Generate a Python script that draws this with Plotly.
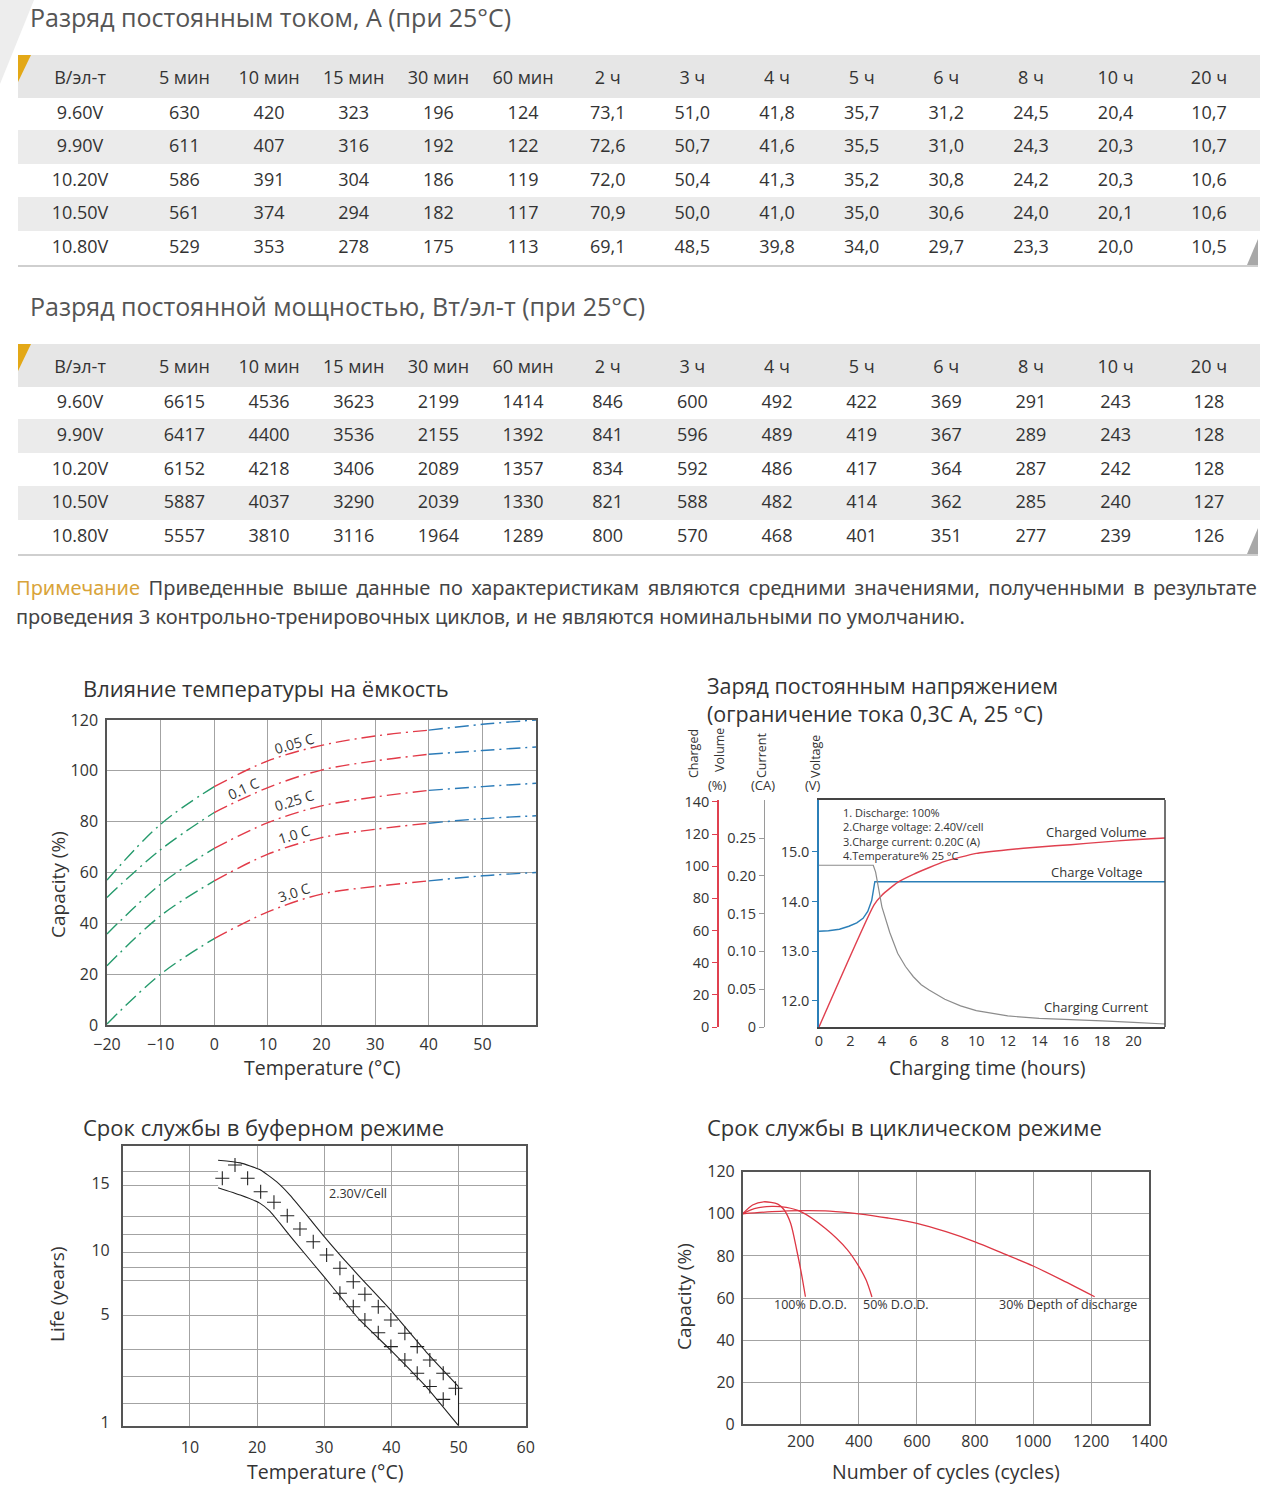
import plotly.graph_objects as go
import numpy as np

W, H = 1280, 1497
FONT = "Open Sans"
NOTE_FONT = "Noto Sans"
TXT = "#333333"

# ---------------- data: tables ----------------
VOLTS = ["9.60V", "9.90V", "10.20V", "10.50V", "10.80V"]
DURATIONS = ["5 мин", "10 мин", "15 мин", "30 мин", "60 мин", "2 ч", "3 ч",
             "4 ч", "5 ч", "6 ч", "8 ч", "10 ч", "20 ч"]
CURRENT_A = [
    [630, 420, 323, 196, 124, 73.1, 51.0, 41.8, 35.7, 31.2, 24.5, 20.4, 10.7],
    [611, 407, 316, 192, 122, 72.6, 50.7, 41.6, 35.5, 31.0, 24.3, 20.3, 10.7],
    [586, 391, 304, 186, 119, 72.0, 50.4, 41.3, 35.2, 30.8, 24.2, 20.3, 10.6],
    [561, 374, 294, 182, 117, 70.9, 50.0, 41.0, 35.0, 30.6, 24.0, 20.1, 10.6],
    [529, 353, 278, 175, 113, 69.1, 48.5, 39.8, 34.0, 29.7, 23.3, 20.0, 10.5],
]
POWER_W = [
    [6615, 4536, 3623, 2199, 1414, 846, 600, 492, 422, 369, 291, 243, 128],
    [6417, 4400, 3536, 2155, 1392, 841, 596, 489, 419, 367, 289, 243, 128],
    [6152, 4218, 3406, 2089, 1357, 834, 592, 486, 417, 364, 287, 242, 128],
    [5887, 4037, 3290, 2039, 1330, 821, 588, 482, 414, 362, 285, 240, 127],
    [5557, 3810, 3116, 1964, 1289, 800, 570, 468, 401, 351, 277, 239, 126],
]

# ---------------- data: temperature vs capacity ----------------
TEMP_C = [-20, -10, 0, 10, 20, 30, 40, 50, 60]
CAP_RATES = ["0.05 C", "0.1 C", "0.25 C", "1.0 C", "3.0 C"]
CAP_005 = [57.0, 79.0, 93.8, 103.9, 110.0, 113.7, 116.0, 118.3, 120.0]
CAP_01 = [50.2, 69.0, 83.6, 93.4, 100.3, 103.9, 106.5, 108.0, 109.4]
CAP_025 = [35.8, 55.4, 69.5, 79.6, 86.2, 89.7, 92.3, 93.8, 95.1]
CAP_10 = [23.3, 43.0, 56.7, 67.2, 73.7, 77.0, 79.4, 81.2, 82.3]
CAP_30 = [0.4, 20.0, 34.0, 44.5, 51.5, 54.5, 56.7, 58.7, 60.0]

# ---------------- data: constant voltage charge ----------------
VOLT_T = [0, 0.6, 1.3, 1.9, 2.4, 2.8, 3.1, 3.35, 3.55, 22]
VOLT_V = [13.40, 13.41, 13.44, 13.50, 13.57, 13.66, 13.80, 14.02, 14.40, 14.40]
VOL_T = [0, 3.5, 4, 5, 6, 8, 10, 12, 14, 16, 18, 20, 22]
VOL_PCT = [0, 76, 82, 90, 95, 103, 108, 110.3, 112, 113.4, 115, 116.5, 117.6]
CUR_T = [0, 3.45, 3.6, 3.8, 4, 4.5, 5, 5.5, 6, 6.5, 7, 8, 9, 10, 12, 14, 16, 18, 20, 22]
CUR_CA = [0.214, 0.214, 0.205, 0.180, 0.159, 0.125, 0.0975, 0.080, 0.0665, 0.056, 0.049,
          0.0366, 0.028, 0.0216, 0.0146, 0.0115, 0.0093, 0.008, 0.0062, 0.004]

# ---------------- data: float life ----------------
LIFE_T_UP = [14.2, 17.5, 20.4, 22.9, 24.9, 27.4, 30.0, 32.8, 35.3, 39.9, 45.2, 50.0]
LIFE_Y_UP = [16.7, 16.5, 16.0, 15.1, 14.1, 12.6, 11.0, 9.35, 7.9, 5.3, 3.6, 2.33]
LIFE_T_LO = [14.2, 17.5, 20.4, 21.9, 23.4, 25.4, 30.0, 32.8, 35.3, 39.9, 42.8, 45.2, 50.0]
LIFE_Y_LO = [14.65, 14.1, 13.5, 12.9, 12.0, 10.75, 7.9, 6.1, 4.78, 3.67, 2.94, 2.32, 0.89]
HATCH_T = [16.72, 18.60, 20.54, 22.52, 24.50, 26.39, 28.37, 30.36, 32.34, 34.33,
           36.06, 38.05, 39.93, 42.01, 43.85, 45.73, 47.72, 49.55,
           14.83, 32.34, 34.33, 36.06, 38.05, 39.93, 42.01, 43.85, 45.73, 47.72]
HATCH_Y = [16.34, 15.35, 14.35, 13.56, 12.56, 11.57, 10.62, 9.61, 8.57, 7.52,
           6.54, 5.57, 4.78, 4.29, 3.80, 3.31, 2.82, 2.27,
           15.35, 6.62, 5.57, 4.78, 4.31, 3.80, 3.31, 2.82, 2.33, 1.86]
LIFE_TICKS = [1, 5, 10, 15]

# ---------------- data: cycle life ----------------
DOD100_N = [0, 34, 72, 121, 143, 165, 186, 202, 216]
DOD100_C = [100, 104.2, 105.7, 104.6, 101.8, 95.5, 82.8, 71.7, 60.6]
DOD50_N = [0, 40, 100, 150, 200, 285, 360, 400, 425, 445]
DOD50_C = [100, 102.5, 103.5, 103, 101, 93, 83, 75, 68.5, 60.5]
DOD30_N = [0, 100, 200, 300, 400, 500, 600, 700, 800, 900, 1000, 1100, 1212]
DOD30_C = [100, 101, 101.5, 101.3, 100, 98, 95.5, 91.5, 86.7, 81, 75.2, 68.5, 60.6]

# ---------------- helpers ----------------
def px(x):
    return x / W


def py(y):
    return 1 - y / H


def ann(text, x, y, size, color=TXT, xanchor="left", yanchor="middle",
        angle=0, family=FONT, align="left"):
    return dict(text=text, x=px(x), y=py(y), xref="paper", yref="paper",
                showarrow=False, xanchor=xanchor, yanchor=yanchor, align=align,
                textangle=angle, borderpad=0,
                font=dict(family=family, size=size, color=color))


def fmt_cur(v, j):
    return f"{v:d}" if j < 5 else f"{v:.1f}".replace(".", ",")


def fmt_pow(v, j):
    return f"{v:d}"


# piecewise scale used by the float-life chart (years -> axis units)
LIFE_SCALE_YEARS = [0.89, 1, 5, 10, 15, 17.76]
LIFE_SCALE_POS = [0, 3, 111.7, 175.7, 242.7, 279.7]
LIFE_GRID_POS = [22.4, 49, 76.7, 110.7, 145.7, 158.4, 173.4, 191.4, 209.7, 240.7, 254]


def life_pos(v):
    return np.interp(v, LIFE_SCALE_YEARS, LIFE_SCALE_POS)


fig = go.Figure()

# ---------------- tables ----------------
ROW_FILL = ["#ffffff", "#ebebeb", "#ffffff", "#ebebeb", "#ffffff"]
HEAD_FILL = "#e6e6e6"
TFONT = dict(family=FONT, size=18, color=TXT)

shapes = []
annotations = []


def add_table(rows, fmt, y_top, y_bot):
    cols = [VOLTS] + [[fmt(r[j], j) for r in rows] for j in range(len(DURATIONS))]
    ncol = len(cols)
    head_top = y_top + 7
    fig.add_trace(go.Table(
        domain=dict(x=[px(18), px(1260)], y=[py(y_bot + 3), py(head_top)]),
        columnwidth=[124] + [84.6] * 12 + [102],
        header=dict(values=["В/эл-т"] + DURATIONS, fill_color=HEAD_FILL,
                    line=dict(color=HEAD_FILL, width=1), align="center", height=35,
                    font=TFONT),
        cells=dict(values=cols, fill_color=[ROW_FILL] * ncol,
                   line=dict(color=[ROW_FILL] * ncol, width=1), align="center",
                   height=33.6, font=TFONT),
    ))
    # header band top strip (header text sits lower in its band)
    shapes.append(dict(type="rect", xref="paper", yref="paper", x0=px(18), x1=px(1260),
                       y0=py(head_top + 1), y1=py(y_top), fillcolor=HEAD_FILL,
                       line=dict(width=0), layer="below"))


add_table(CURRENT_A, fmt_cur, 55, 265)
add_table(POWER_W, fmt_pow, 344, 554)

# decorative corner, table accents, bottom rules
shapes.append(dict(type="path", xref="paper", yref="paper",
                   path=f"M {px(0)},{py(0)} L {px(34)},{py(0)} L {px(0)},{py(84)} Z",
                   fillcolor="#ededed", line=dict(width=0), layer="below"))
for (top, bot) in [(55, 265), (344, 554)]:
    shapes.append(dict(type="path", xref="paper", yref="paper",
                       path=f"M {px(18)},{py(top)} L {px(31)},{py(top)} L {px(18)},{py(top + 27)} Z",
                       fillcolor="#e3a817", line=dict(width=0)))
    shapes.append(dict(type="line", xref="paper", yref="paper",
                       x0=px(18), x1=px(1258), y0=py(bot + 1), y1=py(bot + 1),
                       line=dict(color="#cfcfcf", width=2)))
    shapes.append(dict(type="path", xref="paper", yref="paper",
                       path=f"M {px(1258)},{py(bot - 26)} L {px(1258)},{py(bot)} L {px(1247)},{py(bot)} Z",
                       fillcolor="#a8a8a8", line=dict(width=0)))

annotations.append(ann("Разряд постоянным током, А (при 25°C)", 29, 17.5, 25, "#555555"))
annotations.append(ann("Разряд постоянной мощностью, Вт/эл-т (при 25°C)", 29, 306, 25, "#555555"))
note_rest = ("Приведенные выше данные по характеристикам являются средними значениями, "
             "полученными в результате")
annotations.append(ann(
    "<span style='color:#d9a43a'>Примечание</span> \u2006" + note_rest.replace(" ", " \u2006"),
    15, 587, 20, "#444444", family=NOTE_FONT))
annotations.append(ann(
    "проведения 3 контрольно-тренировочных циклов, и не являются номинальными по умолчанию.",
    15, 616, 20, "#444444", family=NOTE_FONT))

GRID = "#a3a3a3"
FRAME = "#555555"
TICKF = dict(family=FONT, size=16, color=TXT)

# ---------------- chart 1: temperature vs capacity ----------------
GREEN, RED, BLUE = "#259a6c", "#e23a48", "#2b7bb8"
DASH = "14px,5px,2px,5px"
cap_series = [CAP_005, CAP_01, CAP_025, CAP_10, CAP_30]
for vals in cap_series:
    for (i0, i1, col) in [(0, 3, GREEN), (2, 7, RED), (6, 9, BLUE)]:
        fig.add_trace(go.Scatter(x=TEMP_C[i0:i1], y=vals[i0:i1], mode="lines",
                                 line=dict(color=col, width=1.4, dash=DASH, shape="spline"),
                                 xaxis="x", yaxis="y", hoverinfo="skip"))

label_pos = [(14.8, 110.8, -16), (5.4, 93.2, -25), (14.8, 88.4, -17), (14.8, 74.8, -17), (14.8, 52.0, -18)]
for name, (lx, ly, ang) in zip(CAP_RATES, label_pos):
    annotations.append(dict(text=name, x=lx, y=ly, xref="x", yref="y", showarrow=False,
                            textangle=ang, font=dict(family=FONT, size=14, color=TXT)))

annotations.append(ann("Влияние температуры на ёмкость", 82, 688, 22))
annotations.append(ann("Capacity (%)", 58, 885, 19, angle=-90, xanchor="center"))
annotations.append(ann("Temperature (°C)", 322, 1067, 19.5, xanchor="center"))

# ---------------- chart 2: constant voltage charge ----------------
C_BLUE, C_RED, C_GRAY = "#2b7fb8", "#e0404f", "#8c8c8c"
fig.add_trace(go.Scatter(x=VOLT_T, y=VOLT_V, mode="lines", line=dict(color=C_BLUE, width=1.4),
                         xaxis="x2", yaxis="y2", hoverinfo="skip"))
fig.add_trace(go.Scatter(x=VOL_T, y=VOL_PCT, mode="lines", line=dict(color=C_RED, width=1.4, shape="spline", smoothing=0.5),
                         xaxis="x2", yaxis="y3", hoverinfo="skip"))
fig.add_trace(go.Scatter(x=CUR_T, y=CUR_CA, mode="lines", line=dict(color=C_GRAY, width=1.2),
                         xaxis="x2", yaxis="y4", hoverinfo="skip"))

annotations.append(ann("Заряд постоянным напряжением<br>(ограничение тока 0,3С А, 25 °С)", 706, 700, 21.5))
for t, x, y in [("Charged", 693, 754), ("Volume", 720, 750), ("Current", 762, 756), ("Voltage", 815, 757)]:
    annotations.append(ann(t, x, y, 12.5, angle=-90, xanchor="center"))
for t, x in [("(%)", 717), ("(CA)", 763), ("(V)", 813)]:
    annotations.append(ann(t, x, 785, 13, xanchor="center"))
note_lines = ["1. Discharge: 100%", "2.Charge voltage: 2.40V/cell",
              "3.Charge current: 0.20C (A)", "4.Temperature% 25 °C"]
annotations.append(ann("<br>".join(note_lines), 842, 804, 11, yanchor="top"))
annotations.append(dict(text="Charged Volume", x=17.65, y=15.40, xref="x2", yref="y2", showarrow=False,
                        font=dict(family=FONT, size=13, color=TXT)))
annotations.append(dict(text="Charge Voltage", x=17.65, y=14.60, xref="x2", yref="y2", showarrow=False,
                        font=dict(family=FONT, size=13, color=TXT)))
annotations.append(dict(text="Charging Current", x=17.65, y=11.86, xref="x2", yref="y2", showarrow=False,
                        font=dict(family=FONT, size=13, color=TXT)))
annotations.append(ann("Charging time (hours)", 987, 1067, 19.5, xanchor="center"))
shapes.append(dict(type="line", xref="x2 domain", yref="y2 domain", x0=1, x1=1, y0=0, y1=1,
                   line=dict(color="#444444", width=1.5)))

# ---------------- chart 3: float life ----------------
band_x = LIFE_T_UP + LIFE_T_LO[::-1]
band_y = list(life_pos(LIFE_Y_UP)) + list(life_pos(LIFE_Y_LO[::-1]))
fig.add_trace(go.Scatter(x=band_x, y=band_y, mode="lines", fill="toself", fillcolor="white",
                         line=dict(width=0), xaxis="x3", yaxis="y5", hoverinfo="skip"))
fig.add_trace(go.Scatter(x=HATCH_T, y=life_pos(HATCH_Y), mode="markers",
                         marker=dict(symbol="cross-thin", size=10, line=dict(color="#222222", width=1.1)),
                         xaxis="x3", yaxis="y5", hoverinfo="skip"))
fig.add_trace(go.Scatter(x=LIFE_T_UP, y=life_pos(LIFE_Y_UP),
                         mode="lines", line=dict(color="#222222", width=1.1, shape="spline", smoothing=0.5),
                         xaxis="x3", yaxis="y5", hoverinfo="skip"))
fig.add_trace(go.Scatter(x=[LIFE_T_UP[-1], LIFE_T_LO[-1]], y=[life_pos(LIFE_Y_UP[-1]), life_pos(LIFE_Y_LO[-1])],
                         mode="lines", line=dict(color="#222222", width=1.1),
                         xaxis="x3", yaxis="y5", hoverinfo="skip"))
fig.add_trace(go.Scatter(x=LIFE_T_LO, y=life_pos(LIFE_Y_LO), mode="lines",
                         line=dict(color="#222222", width=1.1, shape="spline", smoothing=0.5),
                         xaxis="x3", yaxis="y5", hoverinfo="skip"))
annotations.append(dict(text="2.30V/Cell", x=35, y=float(life_pos(14.2)), xref="x3", yref="y5",
                        showarrow=False, font=dict(family=FONT, size=12.5, color=TXT)))
annotations.append(ann("Срок службы в буферном режиме", 82, 1127, 22))
annotations.append(ann("Life (years)", 57, 1295, 19, angle=-90, xanchor="center"))
annotations.append(ann("Temperature (°C)", 325, 1471, 19.5, xanchor="center"))

# ---------------- chart 4: cycle life ----------------
CYC_RED = "#dd3744"
for n, c in [(DOD100_N, DOD100_C), (DOD50_N, DOD50_C), (DOD30_N, DOD30_C)]:
    fig.add_trace(go.Scatter(x=n, y=c, mode="lines", line=dict(color=CYC_RED, width=1.3, shape="spline", smoothing=0.8),
                             xaxis="x4", yaxis="y6", hoverinfo="skip"))
for t, x in [("100% D.O.D.", 235), ("50% D.O.D.", 528), ("30% Depth of discharge", 1120)]:
    annotations.append(dict(text=t, x=x, y=57.1, xref="x4", yref="y6", showarrow=False,
                            font=dict(family=FONT, size=12.5, color=TXT)))
annotations.append(ann("Срок службы в циклическом режиме", 706, 1127, 22))
annotations.append(ann("Capacity (%)", 684, 1297, 19, angle=-90, xanchor="center"))
annotations.append(ann("Number of cycles (cycles)", 946, 1471, 19.5, xanchor="center"))

# ---------------- layout ----------------
frame = dict(showline=True, linecolor=FRAME, linewidth=1.5, mirror=True, zeroline=False,
             automargin=False)
small = dict(family=FONT, size=14.5, color=TXT)

fig.update_layout(
    width=W, height=H, margin=dict(l=0, r=0, t=0, b=0, pad=0), autosize=False,
    paper_bgcolor="white", plot_bgcolor="white", showlegend=False,
    font=dict(family=FONT, color=TXT),
    shapes=shapes, annotations=annotations,
    # chart 1
    xaxis=dict(domain=[px(107), px(536)], range=[-20, 60], anchor="y",
               tickvals=list(range(-20, 60, 10)), showgrid=True, gridcolor=GRID, gridwidth=1,
               tickfont=TICKF, ticks="", ticklabelstandoff=4, **frame),
    yaxis=dict(domain=[py(1025), py(720)], range=[0, 120], anchor="x",
               tickvals=list(range(0, 121, 20)), showgrid=True, gridcolor=GRID, gridwidth=1,
               tickfont=TICKF, ticks="", ticklabelstandoff=4, **frame),
    # chart 2
    xaxis2=dict(domain=[px(819), px(1165)], range=[0, 22], anchor="y2",
                tickvals=list(range(0, 21, 2)), showgrid=False, showline=True, linecolor="#444444",
                linewidth=1.5, mirror=True, zeroline=False, ticks="", automargin=False,
                tickfont=small),
    yaxis2=dict(domain=[py(1027), py(800)], range=[11.465, 16.05], anchor="x2",
                tickvals=[12, 13, 14, 15], ticktext=["12.0", "13.0", "14.0", "15.0"],
                showgrid=False, showline=True, linecolor=C_BLUE, linewidth=1.5, zeroline=False,
                ticks="outside", ticklen=5, tickcolor=C_BLUE, automargin=False,
                tickfont=small),
    yaxis3=dict(overlaying="y2", anchor="free", position=px(718), range=[0, 141.2],
                tickvals=list(range(0, 141, 20)), showgrid=False, showline=True, linecolor=C_RED,
                linewidth=1.5, zeroline=False, ticks="outside", ticklen=5, tickcolor=C_RED,
                automargin=False, tickfont=small),
    yaxis4=dict(overlaying="y2", anchor="free", position=px(764), range=[0, 0.3003],
                tickvals=[0, 0.05, 0.10, 0.15, 0.20, 0.25],
                ticktext=["0", "0.05", "0.10", "0.15", "0.20", "0.25"],
                showgrid=False, showline=True, linecolor="#9a9a9a",
                linewidth=1.2, zeroline=False, ticks="outside", ticklen=5, tickcolor="#9a9a9a",
                automargin=False, tickfont=small),
    # chart 3
    xaxis3=dict(domain=[px(122.7), px(525.7)], range=[0, 60], anchor="y5",
                tickvals=list(range(10, 61, 10)), showgrid=True, gridcolor=GRID, gridwidth=1,
                tickfont=TICKF, ticks="", ticklabelstandoff=6, **frame),
    yaxis5=dict(domain=[py(1425.7), py(1146)], range=[0, 279.7], anchor="x3",
                tickvals=list(life_pos(LIFE_TICKS)), ticktext=[str(v) for v in LIFE_TICKS],
                showgrid=False, tickfont=TICKF, ticks="", ticklabelstandoff=8,
                minor=dict(tickvals=LIFE_GRID_POS, showgrid=True, gridcolor=GRID, gridwidth=1, ticks=""),
                **frame),
    # chart 4
    xaxis4=dict(domain=[px(742.7), px(1149.3)], range=[0, 1400], anchor="y6",
                tickvals=list(range(200, 1401, 200)), showgrid=True, gridcolor=GRID, gridwidth=1,
                tickfont=TICKF, ticks="", ticklabelstandoff=2, **frame),
    yaxis6=dict(domain=[py(1424.3), py(1171.7)], range=[0, 120], anchor="x4",
                tickvals=list(range(0, 121, 20)), showgrid=True, gridcolor=GRID, gridwidth=1,
                tickfont=TICKF, ticks="", ticklabelstandoff=3, **frame),
)

fig.write_html("out.html", config={"displayModeBar": False},
               post_script="document.body.style.margin='0px';")
